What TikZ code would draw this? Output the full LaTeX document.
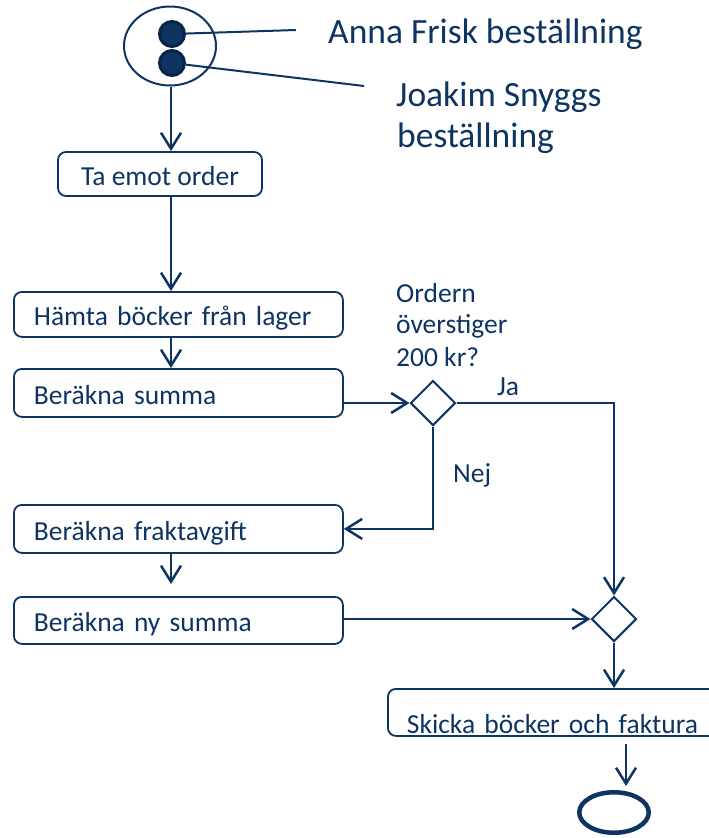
\documentclass[tikz,border=0pt]{standalone}
\usepackage{fontspec}
\setmainfont{Carlito}
\usetikzlibrary{arrows.meta,shapes.geometric}
\definecolor{navy}{RGB}{14,52,98}
\definecolor{navydark}{RGB}{8,36,72}
\begin{document}
\begin{tikzpicture}[x=1pt,y=-1pt,
  every node/.style={text=navy},
  conn/.style={draw=navy,line width=2.5pt},
  arr/.style={conn,-{Straight Barb[length=16pt,width=20pt]}},
  act/.style={draw=navy,line width=1.8pt,rounded corners=8pt,inner sep=0pt,text height=23pt,text depth=0pt,font=\fontsize{27.5pt}{33pt}\selectfont},
  actl/.style={act,anchor=north west,minimum width=329pt,text width=289pt,inner xsep=20pt,align=left},
  dec/.style={diamond,draw=navy,line width=2pt,minimum width=45pt,minimum height=45pt,inner sep=0pt},
  lbl/.style={font=\fontsize{27.5pt}{33pt}\selectfont,anchor=base west,inner sep=0pt},
  big/.style={font=\fontsize{35.5pt}{41pt}\selectfont,anchor=base west,inner sep=0pt},
]
\clip (0,0) rectangle (709,838);

% start
\node[ellipse,draw=navy,line width=2pt,minimum width=92pt,minimum height=79pt,inner sep=0pt] (start) at (170,46) {};
\coordinate (a1) at (296,30);
\coordinate (a2) at (364,86);
\node[circle,fill=navy,draw=navydark,line width=3pt,minimum size=25pt,inner sep=0pt] (dot1) at (172,34) {};
\node[circle,fill=navy,draw=navydark,line width=3pt,minimum size=25pt,inner sep=0pt] (dot2) at (172,63) {};
\draw[draw=navy,line width=2pt] (dot1) -- (a1);
\draw[draw=navy,line width=2pt] (dot2) -- (a2);

\node[big] (anna) at (328,43) {Anna Frisk beställning};
\node[big] (joakim) at (396,106) {Joakim Snyggs};
\node[big] (best) at (397,147) {beställning};

% activities
\node[act,minimum width=204pt,minimum height=44pt] (ta) at (160,174) {Ta emot order};
\node[actl,minimum height=45pt] (hamta) at (13,291) {Hämta böcker från lager};
\node[actl,minimum height=48pt] (summa) at (13,368) {Beräkna summa};
\node[actl,minimum height=48pt] (frakt) at (13,504) {Beräkna fraktavgift};
\node[actl,minimum height=47pt] (ny) at (13,596) {Beräkna ny summa};
\node[act,anchor=north west,minimum width=340pt,minimum height=47pt,text width=302pt,inner xsep=19pt,align=left,text height=43pt] (skicka) at (387,688) {Skicka böcker och faktura};

% decisions
\node[dec] (d1) at (433,403) {};
\node[dec] (d2) at (614,619) {};

\node[lbl] (q1) at (396,302) {Ordern};
\node[lbl] (q2) at (396,333) {överstiger};
\node[lbl] (q3) at (396,366) {200 kr?};
\node[lbl] (ja) at (497,395) {Ja};
\node[lbl] (nej) at (453,482) {Nej};

% end
\node[ellipse,draw=navy,line width=4.5pt,minimum width=69.5pt,minimum height=40.5pt,inner sep=0pt] (end) at (614,812.5) {};

% connectors
\coordinate (col) at (171,0);
\coordinate (e1) at (626,744);
\draw[arr] (start.south -| col) -- (ta.north -| col);
\draw[arr] (ta.south -| col) -- (hamta.north -| col);
\draw[arr] (hamta.south -| col) -- (summa.north -| col);
\draw[arr] (summa.east |- d1.west) -- (d1.west);
\draw[arr] (d1.east) -| (d2.north);
\draw[arr] (d1.south) |- (frakt.east);
\draw[arr,shorten >=12pt] (frakt.south -| col) -- (ny.north -| col);
\draw[arr] (ny.east |- d2.west) -- (d2.west);
\draw[arr] (d2.south) -- (d2.south |- skicka.north);
\draw[arr,shorten >=4pt] (e1) -- (e1 |- end.north);
\end{tikzpicture}
\end{document}
